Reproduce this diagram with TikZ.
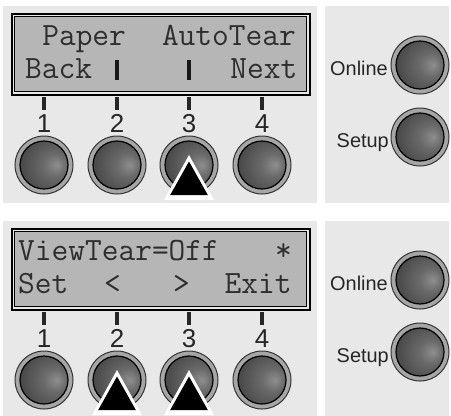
\documentclass[tikz,border=0pt]{standalone}
\usepackage{fontspec}
\setmainfont{Liberation Sans}
\definecolor{panelbg}{HTML}{E8E8E8}
\definecolor{lcdbg}{HTML}{B6B6B6}
\definecolor{lcdtext}{HTML}{2E2E2E}
\definecolor{ringc}{HTML}{A6A6A6}
\definecolor{bc1}{HTML}{8E8E8E}
\definecolor{bc2}{HTML}{6A6A6A}
\definecolor{bc3}{HTML}{3A3A3A}
\pgfdeclareradialshading{btnshade}{\pgfpoint{14bp}{0bp}}{color(0bp)=(bc1); color(12bp)=(bc2); color(40bp)=(bc3); color(60bp)=(bc3)}
\tikzset{
  panel/.style={fill=panelbg, draw=none},
  lcdtxt/.style={font=\ttfamily\fontsize{32.6}{34}\selectfont, text=lcdtext, inner sep=0pt, anchor=base west},
  numtxt/.style={font=\fontsize{26}{28}\selectfont, text=black!85, inner sep=0pt, anchor=base},
  sidetxt/.style={font=\fontsize{20}{22}\selectfont, text=black!85, inner sep=0pt, anchor=base east},
  tick/.style={fill=black!85, draw=none},
  lcdbar/.style={fill=black!90, draw=none},
}
\newcommand{\mybutton}[3]{% name, x, y
  \node[circle, minimum size=58bp, inner sep=0pt, fill=ringc, draw=black!80, line width=1bp] (#1) at (#2,#3) {};
  \path[shading=btnshade, draw=black, line width=1.2bp] (#2,#3) circle[radius=24];
}
\newcommand{\mytri}[3]{% name, x, apex y
  \coordinate (#1) at (#2,#3);
  \fill[white] (#2,#3) -- ++(-25,45) -- ++(50,0) -- cycle;
  \fill[black] (#2,#3+6.5) -- ++(-18.8,33.5) -- ++(37.6,0) -- cycle;
}
\newcommand{\mylcd}[2]{% name, y offset
  \node[draw=black, line width=1.6bp, fill=panelbg, minimum width=298bp, minimum height=81bp, inner sep=0pt, anchor=north west] (#1) at (11,13+#2) {};
  \node[draw=black, line width=0.8bp, fill=lcdbg, minimum width=292bp, minimum height=75bp, inner sep=0pt, anchor=north west] (#1in) at (14,16+#2) {};
}
\begin{document}
\begin{tikzpicture}[x=1bp,y=-1bp]
\useasboundingbox (0,0) rectangle (451,415);
\begin{scope}
\clip (0,0) rectangle (451,415);
% panels
\fill[panel] (3,6) rectangle (317,203);
\fill[panel] (325,6) rectangle (449,203);
\fill[panel] (3,221) rectangle (317,430);
\fill[panel] (325,221) rectangle (449,430);

% ===== top =====
\mylcd{lcdA}{0}
\node[lcdtxt] (pA) at (42.1,45) {Paper};
\node[lcdtxt] (atA) at (161.8,45) {AutoTear};
\node[lcdtxt] (bkA) at (25,78) {Back};
\node[lcdtxt] (nxA) at (230.2,78) {Next};
\fill[lcdbar] (115,60) rectangle (119,80);
\fill[lcdbar] (187,60) rectangle (191,80);
\foreach \i/\x in {1/44,2/117,3/189,4/262}{
  \fill[tick] (\x-1.6,97) rectangle (\x+1.6,110);
  \node[numtxt] (nA\i) at (\x,132) {\i};
  \mybutton{bA\i}{\x}{165}
}
\mytri{tA}{189}{155}
\node[sidetxt] (onA) at (388,75) {Online};
\mybutton{onBA}{420}{65}
\node[sidetxt] (suA) at (389,147) {Setup};
\mybutton{suBA}{420}{137}

% ===== bottom =====
\mylcd{lcdB}{215}
\node[lcdtxt] (vB) at (18,260) {ViewTear=Off};
\node[lcdtxt] (stB) at (275,260) {*};
\node[lcdtxt] (seB) at (18,293) {Set};
\node[lcdtxt] (ltB) at (104,293) {<};
\node[lcdtxt] (gtB) at (172.8,293) {>};
\node[lcdtxt] (exB) at (224.4,293) {Exit};
\foreach \i/\x in {1/44,2/117,3/189,4/262}{
  \fill[tick] (\x-1.6,312) rectangle (\x+1.6,325);
  \node[numtxt] (nB\i) at (\x,347) {\i};
  \mybutton{bB\i}{\x}{380}
}
\mytri{tB2}{117}{370}
\mytri{tB3}{189}{370}
\node[sidetxt] (onB) at (388,290) {Online};
\mybutton{onBB}{420}{280}
\node[sidetxt] (suB) at (389,362) {Setup};
\mybutton{suBB}{420}{352}
\end{scope}
\end{tikzpicture}
\end{document}
